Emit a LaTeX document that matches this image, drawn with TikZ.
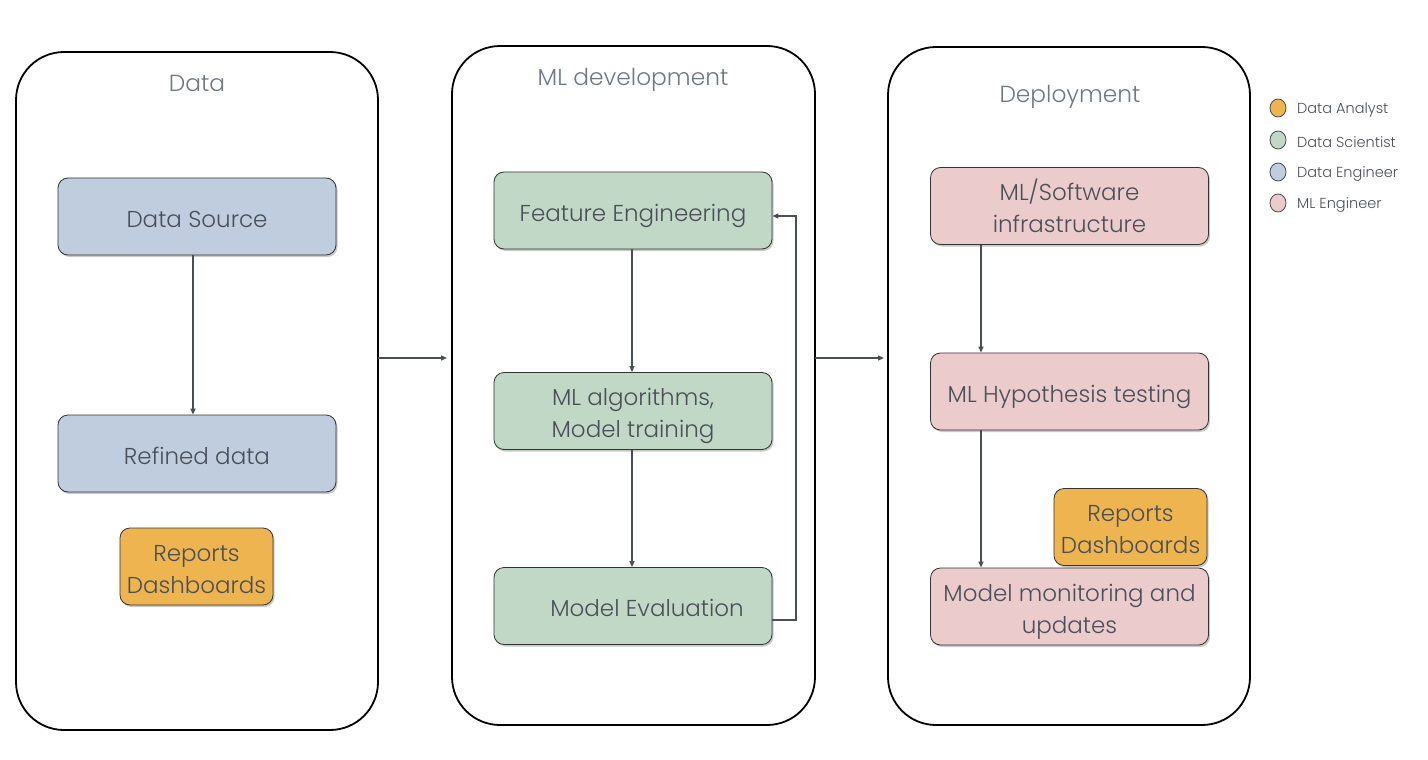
\documentclass[tikz,border=0pt]{standalone}
\usepackage{fontspec}
\setmainfont{Poppins}[UprightFont = * Light]
\usetikzlibrary{arrows.meta,shadows,shapes.geometric}
\definecolor{txt}{HTML}{4A4F57}
\definecolor{ttl}{HTML}{6E7883}
\definecolor{cblue}{HTML}{C0CDDF}
\definecolor{cgreen}{HTML}{C1D8C6}
\definecolor{cpink}{HTML}{EBCBCC}
\definecolor{corange}{HTML}{EEB450}
\definecolor{arr}{HTML}{4A4F57}
\newcommand{\twol}[2]{\begin{tabular}[t]{@{}c@{}}#1\\#2\end{tabular}}
\tikzset{
  container/.style={draw=black, line width=1.8pt, rounded corners=48pt, fill=white},
  ctitle/.style={text=ttl, font=\fontsize{23.3}{26}\selectfont, inner sep=0pt},
  box/.style={draw=black!80, line width=0.8pt, rounded corners=10pt, minimum width=278pt, minimum height=77pt, text=txt, font=\fontsize{23}{32}\selectfont, inner sep=0pt, text height=21pt, text depth=0pt, drop shadow={shadow xshift=1.5pt, shadow yshift=-2pt, opacity=0.35, fill=black!60}},
  two/.style={text height=21pt, text depth=32pt},
  small/.style={box, minimum width=153pt},
  conn/.style={draw=arr, line width=1.4pt, -{Triangle[length=6pt,width=5pt]}},
  legdot/.style={draw=black!70, line width=0.8pt, ellipse, minimum width=16pt, minimum height=18pt, inner sep=0pt},
  legtxt/.style={text=txt, font=\fontsize{14.5}{16}\selectfont, anchor=west, inner sep=0pt},
}
\begin{document}
\begin{tikzpicture}[x=1pt,y=-1pt]
\useasboundingbox (0,0) rectangle (1428,760);
% containers
\draw[container] (16,52) rectangle (378,730);
\draw[container] (452,46) rectangle (815,725);
\draw[container] (888,47) rectangle (1250,725);
\coordinate (c1r) at (378,358);
\coordinate (c2l) at (452,358);
\coordinate (c2r) at (815,358);
\coordinate (c3l) at (888,358);
\node[ctitle] (t1) at (197,83) {Data};
\node[ctitle] (t2) at (633,80) {ML development};
\node[ctitle] (t3) at (1070,97) {Deployment};
% Data column
\node[box, fill=cblue] (ds) at (197,216.5) {Data Source};
\node[box, fill=cblue] (rd) at (197,453.5) {Refined data};
\node[small, two, fill=corange] (rep1) at (196.5,566.5) {\twol{Reports}{Dashboards}};
% ML column
\node[box, fill=cgreen] (fe) at (633,210.5) {Feature Engineering};
\node[box, two, fill=cgreen] (mla) at (633,411) {\twol{ML algorithms,}{Model training}};
\node[box, fill=cgreen] (me) at (633,606) {\hspace*{28pt}Model Evaluation};
% Deployment column
\node[box, two, fill=cpink] (inf) at (1069.5,206) {\twol{ML/Software}{infrastructure}};
\node[box, fill=cpink] (hyp) at (1069.5,391.5) {ML Hypothesis testing};
\node[box, two, fill=cpink] (mon) at (1069.5,606.5) {\twol{Model monitoring and}{updates}};
\node[small, two, fill=corange] (rep2) at (1130.5,527) {\twol{Reports}{Dashboards}};
% connectors
\draw[conn] (ds.south -| 193,0) -- (rd.north -| 193,0);
\draw[conn] (fe.south -| 632,0) -- (mla.north -| 632,0);
\draw[conn] (mla.south -| 632,0) -- (me.north -| 632,0);
\draw[conn] (me.east |- 0,620) -- (796,620) -- (796,216) -- (fe.east |- 0,216);
\draw[conn] (inf.south -| 981,0) -- (hyp.north -| 981,0);
\draw[conn] (hyp.south -| 981,0) -- (mon.north -| 981,0);
\draw[conn] (c1r) -- ([xshift=-5pt]c2l);
\draw[conn] (c2r) -- ([xshift=-4pt]c3l);
% legend
\node[legdot, fill=corange] (l1) at (1278,108) {};
\node[legdot, fill=cgreen] (l2) at (1278,140) {};
\node[legdot, fill=cblue] (l3) at (1278,172) {};
\node[legdot, fill=cpink] (l4) at (1278,203) {};
\node[legtxt] (lt1) at (1297,110) {Data Analyst};
\node[legtxt] (lt2) at (1297,142) {Data Scientist};
\node[legtxt] (lt3) at (1297,174) {Data Engineer};
\node[legtxt] (lt4) at (1297,205) {ML Engineer};
\end{tikzpicture}
\end{document}
